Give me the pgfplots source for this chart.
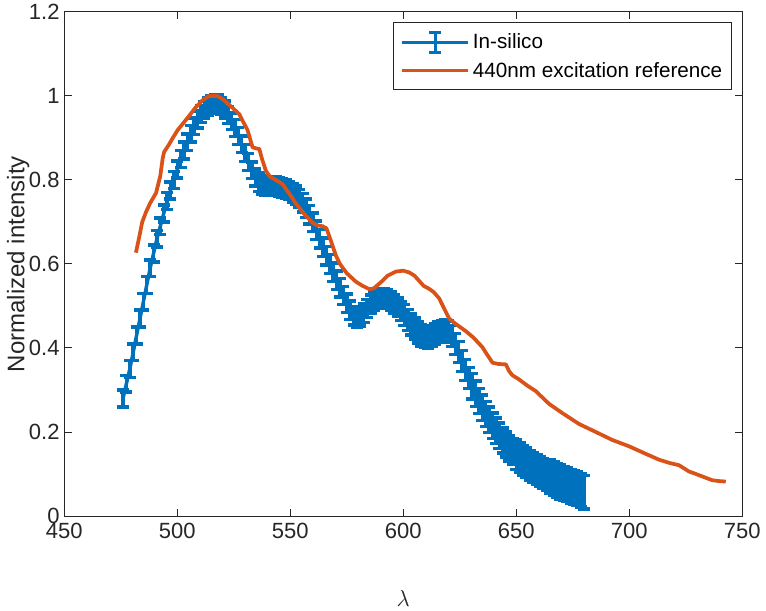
\documentclass[border=0pt]{standalone}
\usepackage{fontspec}
\setmainfont{Liberation Sans}
\usepackage{pgfplots}
\usepackage{pgfplotstable}
\pgfplotsset{compat=1.18}
\definecolor{mblue}{rgb}{0,0.447,0.741}
\definecolor{morange}{rgb}{0.85,0.325,0.098}
\definecolor{maxis}{rgb}{0.15,0.15,0.15}

\pgfplotstableread{
x y e
476 0.28 0.02
477.5 0.315 0.02
479 0.35 0.02
480.5 0.39 0.02
482 0.43 0.02
483.5 0.47 0.02
485 0.51 0.02
486.5 0.55 0.02
488 0.59 0.02
489.5 0.625 0.02
491 0.66 0.02
492.5 0.69 0.02
494 0.72 0.02
495.5 0.75 0.02
497 0.775 0.02
498.5 0.80 0.02
500 0.825 0.02
501.5 0.85 0.02
503 0.87 0.02
504.5 0.89 0.02
506 0.91 0.02
507.5 0.928 0.02
509 0.944 0.02
510.5 0.957 0.02
512 0.967 0.02
513.5 0.975 0.02
515 0.98 0.02
516.5 0.982 0.02
518 0.982 0.02
519.5 0.977 0.02
521 0.968 0.02
522.5 0.955 0.02
524 0.94 0.02
525.5 0.924 0.02
527 0.905 0.02
528.5 0.885 0.02
530 0.864 0.02
531.5 0.843 0.02
533 0.823 0.02
534.5 0.806 0.02
536 0.795 0.022
537.5 0.789 0.022
539 0.786 0.022
540.5 0.785 0.022
542 0.785 0.022
543.5 0.785 0.022
545 0.784 0.022
546.5 0.782 0.022
548 0.779 0.022
549.5 0.775 0.022
551 0.77 0.022
552.5 0.764 0.022
554 0.756 0.022
555.5 0.746 0.022
557 0.733 0.022
558.5 0.717 0.022
560 0.699 0.022
561.5 0.68 0.022
563 0.66 0.022
564.5 0.64 0.022
566 0.62 0.022
567.5 0.6 0.022
569 0.58 0.022
570.5 0.561 0.022
572 0.543 0.022
573.5 0.525 0.022
575 0.507 0.022
576.5 0.49 0.022
578 0.477 0.022
579.5 0.471 0.022
581 0.474 0.022
582.5 0.483 0.022
584 0.494 0.022
585.5 0.504 0.022
587 0.512 0.022
588.5 0.517 0.022
590 0.52 0.022
591.5 0.52 0.022
593 0.517 0.022
594.5 0.512 0.022
596 0.505 0.022
597.5 0.497 0.022
599 0.488 0.022
600.5 0.478 0.025
602 0.467 0.025
603.5 0.456 0.025
605 0.446 0.025
606.5 0.437 0.025
608 0.43 0.025
609.5 0.426 0.025
611 0.425 0.025
612.5 0.428 0.025
614 0.433 0.025
615.5 0.438 0.025
617 0.441 0.025
618.5 0.442 0.025
620 0.439 0.025
621.5 0.428 0.025
623 0.41 0.025
624.5 0.39 0.025
626 0.369 0.025
627.5 0.348 0.025
629 0.328 0.025
630.5 0.309 0.03
632 0.291 0.03
633.5 0.274 0.03
635 0.258 0.03
636.5 0.243 0.03
638 0.229 0.03
639.5 0.215 0.03
641 0.203 0.03
642.5 0.191 0.03
644 0.18 0.03
645.5 0.17 0.03
647 0.161 0.03
648.5 0.153 0.03
650 0.146 0.035
651.5 0.139 0.035
653 0.133 0.035
654.5 0.127 0.035
656 0.121 0.035
657.5 0.116 0.035
659 0.111 0.035
660.5 0.106 0.035
662 0.101 0.035
663.5 0.097 0.035
665 0.093 0.04
666.5 0.089 0.04
668 0.085 0.04
669.5 0.081 0.04
671 0.078 0.04
672.5 0.075 0.04
674 0.071 0.04
675.5 0.068 0.04
677 0.065 0.04
678.5 0.061 0.04
680 0.057 0.04
}\insilico

\pgfplotstableread{
x y
481.7 0.627
483 0.66
484.5 0.70
486.2 0.724
488 0.745
490.6 0.769
492.5 0.81
493.5 0.85
494.2 0.867
496.4 0.885
498 0.9
500.2 0.919
505.3 0.953
508 0.972
511.2 0.99
514.1 1.0
517.8 1.0
520 0.993
523 0.979
527.4 0.957
529 0.94
531.1 0.919
533.3 0.878
535 0.875
536.3 0.874
537.5 0.85
539.2 0.822
541 0.808
543.6 0.80
546.6 0.79
549.5 0.768
552.5 0.744
556 0.72
559.9 0.698
562 0.692
564.3 0.69
566 0.685
568 0.655
570.2 0.62
572 0.60
575 0.578
579 0.558
582 0.548
585 0.54
587 0.542
590.8 0.56
593 0.572
596.7 0.582
600 0.584
602.6 0.58
605 0.572
607 0.56
609 0.548
611.4 0.541
613.5 0.533
615.9 0.518
618 0.495
620.3 0.47
623 0.458
627.7 0.44
631 0.425
635 0.402
637 0.385
639.5 0.365
642 0.362
645.4 0.361
646.8 0.345
648.3 0.335
651 0.326
655 0.31
658.6 0.2975
664.5 0.267
670.4 0.245
677.8 0.219
685.2 0.2
692.5 0.181
699.9 0.166
707.3 0.148
713.2 0.134
718 0.126
722 0.121
726.4 0.106
729.5 0.1
732.4 0.094
736.8 0.085
740 0.083
742.7 0.082
}\reference

\begin{document}
\begin{tikzpicture}
\useasboundingbox (0,0) rectangle (574.5pt,457.5pt);
\begin{axis}[
  at={(48.2pt,70.5pt)}, anchor=south west,
  scale only axis, width=508.5pt, height=378pt,
  xmin=450, xmax=750, ymin=0, ymax=1.2,
  xtick={450,500,550,600,650,700,750},
  ytick={0,0.2,0.4,0.6,0.8,1,1.2},
  tick align=inside, major tick length=5.5pt,
  axis line style={maxis, line width=0.75pt},
  every tick/.style={maxis, line width=0.75pt},
  ticklabel style={font=\fontsize{16.5}{18}\selectfont, text=maxis},
  xticklabel style={yshift=-2pt},
  /pgf/number format/assume math mode=true,
  xlabel={$\lambda$}, ylabel={Normalized intensity},
  label style={font=\fontsize{18}{20}\selectfont, text=maxis},
  xlabel style={at={(axis description cs:0.5,-0.163)}, anchor=center},
  ylabel style={at={(axis description cs:-0.068,0.5)}, anchor=center},
  legend style={at={(0.985,0.980)}, anchor=north east, draw=maxis,
    line width=0.75pt, font=\fontsize{15.5}{18}\selectfont, text=black,
    inner xsep=5pt, inner ysep=6pt, row sep=4pt, cells={anchor=west}},
  legend cell align=left,
]
\addplot[mblue, line width=2.6pt, mark=none, forget plot,
  error bars/.cd, y dir=both, y explicit,
  error bar style={line width=2.6pt, mblue},
  error mark options={rotate=90, mblue, mark size=4.5pt, line width=2.6pt}]
  table[x=x, y=y, y error=e] {\insilico};
\addplot[morange, line width=2.8pt, line join=round, forget plot]
  table[x=x, y=y] {\reference};
\addlegendimage{legend image code/.code={
  \draw[mblue, line width=2.6pt] (0pt,0pt) -- (49.5pt,0pt);
  \draw[mblue, line width=2.6pt] (24.75pt,-7.5pt) -- (24.75pt,7.5pt);
  \draw[mblue, line width=2.6pt] (20.25pt,-7.5pt) -- (29.25pt,-7.5pt);
  \draw[mblue, line width=2.6pt] (20.25pt,7.5pt) -- (29.25pt,7.5pt);}}
\addlegendentry{In-silico}
\addlegendimage{legend image code/.code={\draw[morange, line width=2.8pt] (0pt,0pt) -- (49.5pt,0pt);}}
\addlegendentry{440nm excitation reference}
\end{axis}
\end{tikzpicture}
\end{document}
